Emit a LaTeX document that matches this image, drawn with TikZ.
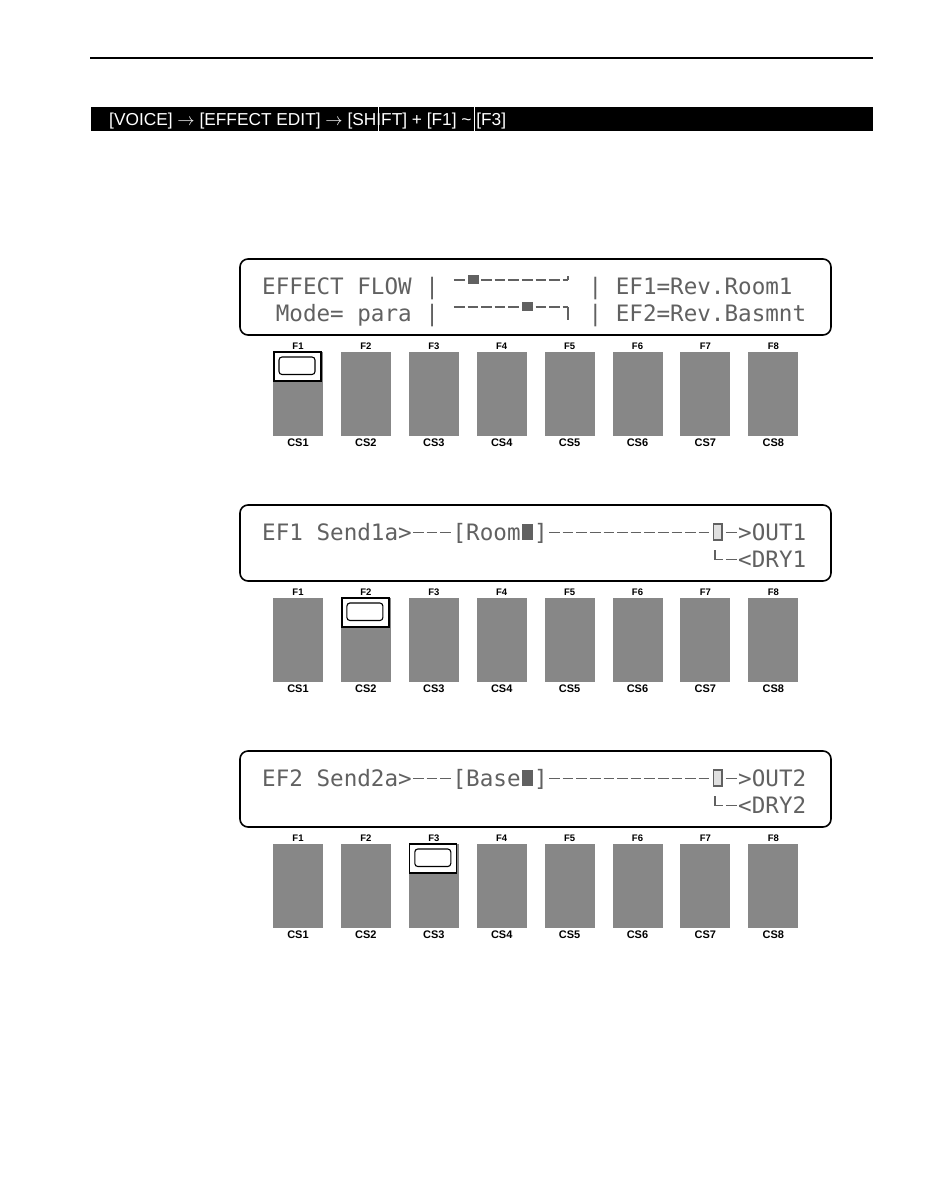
\documentclass[tikz,border=0pt]{standalone}
\usepackage{fontspec}
\setmainfont{Liberation Sans}
\newfontfamily\lcdfont{DejaVu Sans Mono}
\begin{document}
\begin{tikzpicture}[x=1pt,y=-1pt,
  lcd/.style={font=\lcdfont\fontsize{22.59}{24}\selectfont, text=black!62, inner sep=0pt, anchor=base west},
  lcdline/.style={draw=black!62, line width=1.6pt, dash pattern=on 10.6pt off 3pt},
  lcdstroke/.style={draw=black!62, line width=1.6pt},
  panel/.style={draw=black, line width=1.6pt, rounded corners=8pt},
  btnfill/.style={fill=black!47},
  flabel/.style={font=\bfseries\fontsize{9.5}{10}\selectfont, inner sep=0pt},
  cslabel/.style={font=\bfseries\fontsize{11}{12}\selectfont, inner sep=0pt},
  selout/.style={fill=white, draw=black, line width=1.3pt},
  selin/.style={draw=black, line width=1.1pt, rounded corners=3pt},
]
\useasboundingbox (0,0) rectangle (930,1197);
\fill[white] (0,0) rectangle (930,1197);

% top rule and header bar
\draw[line width=1.5pt] (90,58) -- (873,58);
\fill[black] (91,107) rectangle (873,131);
\node[anchor=base west, text=white, inner sep=0pt, font=\fontsize{17.3}{18}\selectfont] (hdr) at (109,125)
  {[VOICE] $\rightarrow$ [EFFECT EDIT] $\rightarrow$ [SHIFT] + [F1] \textasciitilde{} [F3]};
\draw[white, line width=0.7pt] (378.5,107) -- (378.5,131);
\draw[white, line width=0.7pt] (474,107) -- (474,131);

% panels and buttons
\foreach \k/\dy/\sel in {0/0/1, 1/246/2, 2/492/3} {
  \draw[panel] (240,{259+\dy}) rectangle (831,{335+\dy});
  \foreach \i in {1,...,8} {
    \pgfmathsetmacro\bx{273+67.9*(\i-1)}
    \fill[btnfill] (\bx,{352+\dy}) rectangle ({\bx+50},{436+\dy});
    \node[flabel] (f\k\i) at ({\bx+25},{346+\dy}) {F\i};
    \node[cslabel] (cs\k\i) at ({\bx+25},{442.5+\dy}) {CS\i};
    \ifnum\i=\sel\relax
      \draw[selout] ({\bx+1},{352+\dy}) rectangle ({\bx+48},{381+\dy});
      \draw[selin] ({\bx+6},{357+\dy}) rectangle ({\bx+42},{374.5+\dy});
    \fi
  }
}

% ---------- panel 1 LCD ----------
\node[lcd] (p1a) at (262,294) {EFFECT FLOW |};
\node[lcd] (p1b) at ({262+13.6*24},294) {| EF1=Rev.Room1};
\node[lcd] (p1c) at ({262+13.6},321) {Mode= para |};
\node[lcd] (p1d) at ({262+13.6*24},321) {| EF2=Rev.Basmnt};
% flow graphic line 1
\draw[lcdline] ({262+13.6*14+1.5},280) -- ({262+13.6*15-1.5},280);
\fill[black!62] (467.5,275) rectangle (479,284);
\draw[lcdline] ({262+13.6*16+1.5},280) -- (568,280);
\draw[lcdstroke] (568,280) -- (568,276);
% flow graphic line 2
\draw[lcdline] ({262+13.6*14+1.5},307) -- ({262+13.6*19-1.5},307);
\fill[black!62] (522,302) rectangle (533,311);
\draw[lcdline] ({262+13.6*20+1.5},307) -- (568,307);
\draw[lcdstroke] (568,307) -- (568,320);

% ---------- panel 2 / panel 3 LCD ----------
\foreach \dy/\n/\fx in {246/1/Room, 492/2/Base} {
  \pgfmathsetmacro\ba{294+\dy}
  \pgfmathsetmacro\bb{321+\dy}
  \node[lcd] (s\n a) at (262,\ba) {EF\n\ Send\n a>};
  \draw[lcdline] ({262+13.6*11+1.5},{\ba-7.5}) -- ({262+13.6*14-1.5},{\ba-7.5});
  \node[lcd] (s\n b) at ({262+13.6*14},\ba) {[\fx};
  \fill[black!62] ({262+13.6*19+1.5},{\ba-16.5}) rectangle ({262+13.6*20-1.5},\ba);
  \node[lcd] (s\n c) at ({262+13.6*20},\ba) {]};
  \draw[lcdline] ({262+13.6*21+1.5},{\ba-7.5}) -- ({262+13.6*33-1.5},{\ba-7.5});
  \draw[draw=black!62, line width=1.2pt, fill=black!12] ({262+13.6*33+2.5},{\ba-16}) rectangle ({262+13.6*34-2.5},\ba);
  \draw[lcdline] ({262+13.6*34+1.5},{\ba-7.5}) -- ({262+13.6*35-1.5},{\ba-7.5});
  \node[lcd] (s\n d) at ({262+13.6*35},\ba) {>OUT\n};
  % second row
  \draw[lcdstroke] ({262+13.6*33+4},{\bb-17}) -- ({262+13.6*33+4},{\bb-7.5}) -- ({262+13.6*34-1.5},{\bb-7.5});
  \draw[lcdline] ({262+13.6*34+1.5},{\bb-7.5}) -- ({262+13.6*35-1.5},{\bb-7.5});
  \node[lcd] (s\n e) at ({262+13.6*35},\bb) {<DRY\n};
}
\end{tikzpicture}
\end{document}
